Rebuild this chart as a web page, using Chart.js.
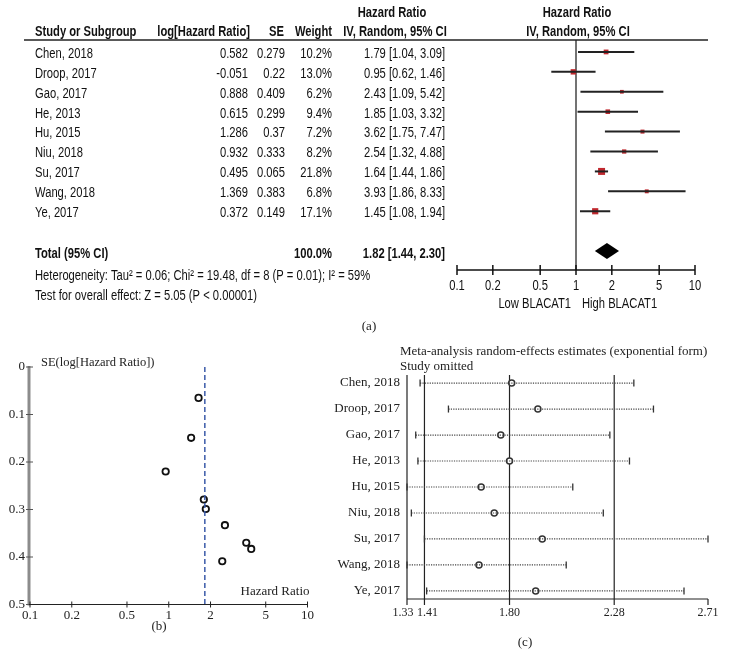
<!DOCTYPE html>
<html>
<head>
<meta charset="utf-8">
<script src="https://cdn.jsdelivr.net/npm/chart.js@4.4.0/dist/chart.umd.min.js"></script>
<style>
  html, body { margin: 0; padding: 0; background: #fff; }
  #wrap { position: relative; width: 730px; height: 664px; background: #fff; overflow: hidden; }
  canvas { position: absolute; }
</style>
</head>
<body>
<div id="wrap">
  <canvas id="forest" width="730" height="335" style="left:0;top:0"></canvas>
  <canvas id="funnel" width="330" height="334" style="left:0;top:330px"></canvas>
  <canvas id="omit" width="400" height="334" style="left:330px;top:330px"></canvas>
</div>
<script>
// --- data ---
const studies = ["Chen, 2018", "Droop, 2017", "Gao, 2017", "He, 2013", "Hu, 2015", "Niu, 2018", "Su, 2017", "Wang, 2018", "Ye, 2017"];
const logHR = [0.582, -0.051, 0.888, 0.615, 1.286, 0.932, 0.495, 1.369, 0.372];
const seLogHR = [0.279, 0.22, 0.409, 0.299, 0.37, 0.333, 0.065, 0.383, 0.149];
const weights = [10.2, 13.0, 6.2, 9.4, 7.2, 8.2, 21.8, 6.8, 17.1];
const hr = [1.79, 0.95, 2.43, 1.85, 3.62, 2.54, 1.64, 3.93, 1.45];
const hrLow = [1.04, 0.62, 1.09, 1.03, 1.75, 1.32, 1.44, 1.86, 1.08];
const hrHigh = [3.09, 1.46, 5.42, 3.32, 7.47, 4.88, 1.86, 8.33, 1.94];
const totalHR = 1.82, totalLow = 1.44, totalHigh = 2.30;
const hrTicks = [0.1, 0.2, 0.5, 1, 2, 5, 10];
const seTicks = [0, 0.1, 0.2, 0.3, 0.4, 0.5];

// leave-one-out estimates (panel c)
const omitEst = [1.81, 1.93, 1.76, 1.80, 1.67, 1.73, 1.95, 1.66, 1.92];
const omitLow = [1.39, 1.52, 1.37, 1.38, 1.33, 1.35, 1.41, 1.33, 1.42];
const omitHigh = [2.37, 2.46, 2.26, 2.35, 2.09, 2.23, 2.71, 2.06, 2.60];
const omitTicks = [1.33, 1.41, 1.80, 2.28, 2.71];
const omitLines = [1.41, 1.80, 2.28];

const SANS = '"Liberation Sans", Arial, sans-serif';
const SERIF = '"Liberation Serif", "Times New Roman", serif';
const SX = 0.8; // condensed look of the RevMan font

function narrow(ctx, s, x, y, align, bold, size) {
  ctx.save();
  ctx.font = (bold ? 'bold ' : '') + (size || 14) + 'px ' + SANS;
  ctx.translate(x, y);
  ctx.scale(SX, 1);
  ctx.textAlign = align;
  ctx.textBaseline = 'middle';
  ctx.fillStyle = '#111';
  ctx.fillText(s, 0, 0);
  ctx.restore();
}
function serif(ctx, s, x, y, align, size) {
  ctx.save();
  ctx.font = (size || 13) + 'px ' + SERIF;
  ctx.textAlign = align;
  ctx.textBaseline = 'middle';
  ctx.fillStyle = '#222';
  ctx.fillText(s, x, y);
  ctx.restore();
}
function line(ctx, x1, y1, x2, y2, color, w, dash) {
  ctx.save();
  ctx.strokeStyle = color;
  ctx.lineWidth = w;
  if (dash) ctx.setLineDash(dash);
  ctx.beginPath();
  ctx.moveTo(x1, y1);
  ctx.lineTo(x2, y2);
  ctx.stroke();
  ctx.restore();
}

// ---------- (a) forest plot ----------
const forestSets = studies.map((s, i) => ({
  data: [{ x: hrLow[i], y: i }, { x: hrHigh[i], y: i }],
  showLine: true,
  borderColor: '#222',
  borderWidth: 2,
  pointRadius: 0
}));
forestSets.push({
  data: hr.map((v, i) => ({ x: v, y: i })),
  pointStyle: 'rect',
  pointRadius: weights.map(w => 1.06 * Math.sqrt(w)),
  backgroundColor: '#c0282e',
  borderWidth: 0
});

const forestPlugin = {
  id: 'forestDeco',
  beforeDatasetsDraw(chart) {
    const { ctx, chartArea: a, scales: { x } } = chart;
    const x1 = x.getPixelForValue(1);
    line(ctx, x1, a.top, x1, a.bottom, '#444', 1.5);
  },
  afterDatasetsDraw(chart) {
    const { ctx, chartArea: a, scales: { x, y } } = chart;
    // diamond
    const yt = y.getPixelForValue(10);
    ctx.save();
    ctx.fillStyle = '#000';
    ctx.beginPath();
    ctx.moveTo(x.getPixelForValue(totalLow), yt);
    ctx.lineTo(x.getPixelForValue(totalHR), yt - 8);
    ctx.lineTo(x.getPixelForValue(totalHigh), yt);
    ctx.lineTo(x.getPixelForValue(totalHR), yt + 8);
    ctx.closePath();
    ctx.fill();
    ctx.restore();
    // axis
    line(ctx, x.getPixelForValue(0.1), a.bottom, x.getPixelForValue(10), a.bottom, '#111', 1.5);
    hrTicks.forEach(t => {
      const px = x.getPixelForValue(t);
      line(ctx, px, a.bottom - 5, px, a.bottom + 5, '#111', 1.5);
      narrow(ctx, String(t), px, a.bottom + 16, 'center', false, 14);
    });
    const x1 = x.getPixelForValue(1);
    narrow(ctx, 'Low BLACAT1', x1 - 5, a.bottom + 34, 'right', false, 14);
    narrow(ctx, 'High BLACAT1', x1 + 6, a.bottom + 34, 'left', false, 14);
    // header
    line(ctx, 24, a.top, 708, a.top, '#222', 1.5);
    narrow(ctx, 'Hazard Ratio', 392, 13, 'center', true);
    narrow(ctx, 'Hazard Ratio', 577, 13, 'center', true);
    narrow(ctx, 'Study or Subgroup', 35, 32, 'left', true);
    narrow(ctx, 'log[Hazard Ratio]', 250, 32, 'right', true);
    narrow(ctx, 'SE', 284, 32, 'right', true);
    narrow(ctx, 'Weight', 332, 32, 'right', true);
    narrow(ctx, 'IV, Random, 95% CI', 395, 32, 'center', true);
    narrow(ctx, 'IV, Random, 95% CI', 578, 32, 'center', true);
    // rows
    studies.forEach((s, i) => {
      const py = y.getPixelForValue(i) + 2;
      narrow(ctx, s, 35, py, 'left');
      narrow(ctx, String(logHR[i]), 248, py, 'right');
      narrow(ctx, String(seLogHR[i]), 285, py, 'right');
      narrow(ctx, weights[i].toFixed(1) + '%', 332, py, 'right');
      narrow(ctx, hr[i].toFixed(2) + ' [' + hrLow[i].toFixed(2) + ', ' + hrHigh[i].toFixed(2) + ']', 445, py, 'right');
    });
    const pt = y.getPixelForValue(10) + 3;
    narrow(ctx, 'Total (95% CI)', 35, pt, 'left', true);
    narrow(ctx, '100.0%', 332, pt, 'right', true);
    narrow(ctx, totalHR.toFixed(2) + ' [' + totalLow.toFixed(2) + ', ' + totalHigh.toFixed(2) + ']', 445, pt, 'right', true);
    narrow(ctx, 'Heterogeneity: Tau\u00b2 = 0.06; Chi\u00b2 = 19.48, df = 8 (P = 0.01); I\u00b2 = 59%', 35, 276, 'left');
    narrow(ctx, 'Test for overall effect: Z = 5.05 (P < 0.00001)', 35, 296, 'left');
    serif(ctx, '(a)', 369, 327, 'center', 13);
  }
};

new Chart(document.getElementById('forest'), {
  type: 'scatter',
  data: { datasets: forestSets },
  options: {
    responsive: false,
    animation: false,
    layout: { padding: { left: 457, right: 35, top: 40, bottom: 65 } },
    scales: {
      x: { type: 'logarithmic', min: 0.1, max: 10, display: false },
      y: { type: 'linear', min: -0.6, max: 10.95, reverse: true, display: false }
    },
    plugins: { legend: { display: false }, tooltip: { enabled: false } }
  },
  plugins: [forestPlugin]
});

// ---------- (b) funnel plot ----------
const funnelPlugin = {
  id: 'funnelDeco',
  afterDatasetsDraw(chart) {
    const { ctx, chartArea: a, scales: { x, y } } = chart;
    const y0 = y.getPixelForValue(0), y5 = y.getPixelForValue(0.5);
    line(ctx, a.left - 1, y0 - 1, a.left - 1, y5 + 1, '#8c8c8c', 3);
    seTicks.forEach(t => {
      const py = y.getPixelForValue(t);
      line(ctx, a.left - 4, py, a.left + 3, py, '#555', 1);
      serif(ctx, String(t), a.left - 5, py, 'right', 13);
    });
    line(ctx, a.left - 1, y5, x.getPixelForValue(10), y5, '#222', 1);
    hrTicks.forEach(t => {
      const px = x.getPixelForValue(t);
      line(ctx, px, y5 - 3, px, y5 + 3, '#222', 1);
      serif(ctx, String(t), px, y5 + 11, 'center', 13);
    });
    serif(ctx, 'SE(log[Hazard Ratio])', a.left + 11, 33, 'left', 12.5);
    serif(ctx, 'Hazard Ratio', x.getPixelForValue(10) + 2, y5 - 13, 'right', 13);
    serif(ctx, '(b)', 159, 297, 'center', 13);
  }
};

new Chart(document.getElementById('funnel'), {
  type: 'scatter',
  data: {
    datasets: [
      {
        data: [{ x: totalHR, y: 0 }, { x: totalHR, y: 0.5 }],
        showLine: true,
        borderColor: '#3a5aa8',
        borderWidth: 1.5,
        borderDash: [5, 3],
        pointRadius: 0
      },
      {
        data: hr.map((v, i) => ({ x: v, y: seLogHR[i] })),
        pointStyle: 'circle',
        pointRadius: 3.2,
        borderColor: '#111',
        borderWidth: 1.8,
        backgroundColor: 'rgba(255,255,255,0)'
      }
    ]
  },
  options: {
    responsive: false,
    animation: false,
    layout: { padding: { left: 30, right: 22.5, top: 37, bottom: 59.5 } },
    scales: {
      x: { type: 'logarithmic', min: 0.1, max: 10, display: false },
      y: { type: 'linear', min: 0, max: 0.5, reverse: true, display: false }
    },
    plugins: { legend: { display: false }, tooltip: { enabled: false } }
  },
  plugins: [funnelPlugin]
});

// ---------- (c) study omitted ----------
const omitSets = studies.map((s, i) => ({
  data: [{ x: omitLow[i], y: i }, { x: omitHigh[i], y: i }],
  showLine: true,
  borderColor: '#444',
  borderWidth: 1.2,
  borderDash: [1.2, 1.2],
  pointStyle: 'line',
  pointRotation: 90,
  pointRadius: 3.5,
  pointBorderWidth: 1.3,
  pointBorderColor: '#333',
  clip: false
}));
omitSets.push({
  data: omitEst.map((v, i) => ({ x: v, y: i })),
  pointStyle: 'circle',
  pointRadius: 3,
  borderColor: '#333',
  borderWidth: 1.5,
  backgroundColor: '#fff',
  clip: false
});

const omitPlugin = {
  id: 'omitDeco',
  beforeDatasetsDraw(chart) {
    const { ctx, chartArea: a, scales: { x } } = chart;
    line(ctx, a.left, a.top, a.left, a.bottom, '#222', 1.2);
    omitLines.forEach(v => {
      const px = x.getPixelForValue(v);
      line(ctx, px, a.top, px, a.bottom, '#222', 1.2);
    });
  },
  afterDatasetsDraw(chart) {
    const { ctx, chartArea: a, scales: { x, y } } = chart;
    line(ctx, a.left, a.bottom, a.right, a.bottom, '#222', 1.2);
    const nudge = [-4, 3, 0, 0, 0];
    omitTicks.forEach((t, k) => {
      const px = x.getPixelForValue(t);
      line(ctx, px, a.bottom, px, a.bottom + 6, '#222', 1.2);
      serif(ctx, t.toFixed(2), px + nudge[k], a.bottom + 14, 'center', 12);
    });
    studies.forEach((s, i) => {
      serif(ctx, s, a.left - 7, y.getPixelForValue(i), 'right', 13);
    });
    serif(ctx, 'Meta-analysis random-effects estimates (exponential form)', a.left - 7, 22, 'left', 13);
    serif(ctx, 'Study omitted', a.left - 7, 37, 'left', 13);
    serif(ctx, '(c)', 195, 313, 'center', 13);
  }
};

new Chart(document.getElementById('omit'), {
  type: 'scatter',
  data: { datasets: omitSets },
  options: {
    responsive: false,
    animation: false,
    layout: { padding: { left: 77, right: 22, top: 45, bottom: 65 } },
    scales: {
      x: { type: 'linear', min: 1.33, max: 2.71, display: false },
      y: { type: 'linear', min: -0.31, max: 8.31, reverse: true, display: false }
    },
    plugins: { legend: { display: false }, tooltip: { enabled: false } }
  },
  plugins: [omitPlugin]
});
</script>
</body>
</html>
